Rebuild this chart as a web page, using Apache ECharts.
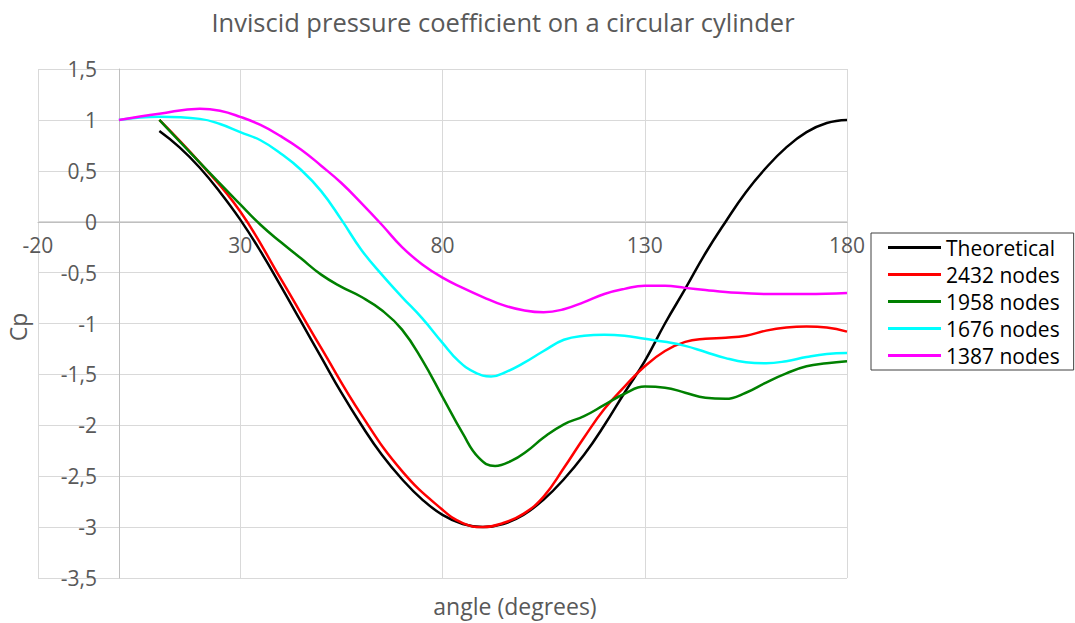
<!DOCTYPE html>
<html>
<head>
<meta charset="utf-8">
<script src="https://cdn.jsdelivr.net/npm/echarts@6/dist/echarts.min.js"></script>
<style>
  html, body { margin: 0; padding: 0; background: #fff; }
  #chart { width: 1075px; height: 623px; }
</style>
</head>
<body>
<div id="chart"></div>
<script>
// values: [angle, Cp]
var theoretical = [[10, 0.89], [15, 0.73], [20, 0.53], [25, 0.29], [30, 0.02], [35, -0.29], [40, -0.63], [45, -0.98], [50, -1.33], [55, -1.68], [60, -2.0], [65, -2.29], [70, -2.53], [75, -2.73], [80, -2.88], [85, -2.97], [90, -3.0], [95, -2.97], [100, -2.88], [105, -2.73], [110, -2.53], [115, -2.29], [120, -2.0], [125, -1.68], [130, -1.37], [135, -1.0], [140, -0.66], [145, -0.31], [150, 0.0], [155, 0.29], [160, 0.53], [165, 0.73], [170, 0.88], [175, 0.97], [180, 1.0]];
var nodes2432 = [[10, 1.0], [20, 0.58], [30, 0.1], [40, -0.56], [50, -1.24], [60, -1.9], [70, -2.45], [80, -2.83], [85, -2.96], [90, -3.0], [95, -2.96], [100, -2.87], [105, -2.7], [110, -2.42], [115, -2.12], [120, -1.84], [125, -1.62], [130, -1.42], [135, -1.27], [140, -1.18], [145, -1.15], [150, -1.14], [155, -1.12], [160, -1.07], [165, -1.04], [170, -1.03], [175, -1.04], [180, -1.08]];
var nodes1958 = [[10, 1.0], [20, 0.58], [30, 0.17], [35, -0.03], [40, -0.2], [45, -0.36], [50, -0.52], [55, -0.64], [60, -0.74], [65, -0.87], [70, -1.06], [75, -1.36], [80, -1.72], [85, -2.08], [89, -2.32], [93, -2.4], [97, -2.35], [101, -2.25], [105, -2.12], [110, -1.99], [115, -1.91], [120, -1.8], [125, -1.69], [130, -1.62], [135, -1.63], [140, -1.68], [145, -1.73], [150, -1.74], [155, -1.68], [160, -1.58], [165, -1.49], [170, -1.42], [175, -1.39], [180, -1.37]];
var nodes1676 = [[0, 1.0], [10, 1.03], [20, 1.01], [25, 0.96], [30, 0.88], [35, 0.8], [40, 0.67], [45, 0.51], [50, 0.3], [55, 0.02], [60, -0.28], [65, -0.52], [70, -0.74], [75, -0.95], [80, -1.19], [84, -1.37], [88, -1.48], [92, -1.52], [96, -1.47], [100, -1.39], [105, -1.27], [110, -1.16], [115, -1.12], [120, -1.11], [125, -1.12], [130, -1.15], [135, -1.18], [140, -1.22], [145, -1.28], [150, -1.34], [155, -1.38], [160, -1.39], [165, -1.37], [170, -1.33], [175, -1.3], [180, -1.29]];
var nodes1387 = [[0, 1.0], [10, 1.06], [20, 1.11], [25, 1.09], [30, 1.03], [35, 0.95], [40, 0.84], [45, 0.71], [50, 0.55], [55, 0.38], [60, 0.18], [65, -0.03], [70, -0.25], [75, -0.42], [80, -0.55], [85, -0.65], [90, -0.74], [95, -0.82], [100, -0.87], [105, -0.89], [110, -0.86], [115, -0.79], [120, -0.71], [125, -0.66], [130, -0.63], [135, -0.63], [140, -0.65], [145, -0.67], [150, -0.69], [160, -0.71], [170, -0.71], [180, -0.7]];

var seriesNames = ['Theoretical', '2432 nodes', '1958 nodes', '1676 nodes', '1387 nodes'];
var seriesColors = ['#000000', '#ff0000', '#008000', '#00ffff', '#ff00ff'];
var seriesData = [theoretical, nodes2432, nodes1958, nodes1676, nodes1387];

var font = '"Open Sans", "DejaVu Sans", sans-serif';

var chart = echarts.init(document.getElementById('chart'), null, { renderer: 'svg' });

var series = seriesNames.map(function (n, i) {
    return {
        name: n,
        type: 'line',
        data: seriesData[i],
        smooth: 0.45,
        symbol: 'none',
        lineStyle: { color: seriesColors[i], width: 2.5 },
        itemStyle: { color: seriesColors[i] }
    };
});

chart.setOption({
    animation: false,
    title: {
        text: 'Inviscid pressure coefficient on a circular cylinder',
        left: 498,
        top: 4,
        textAlign: 'center',
        textStyle: { fontFamily: font, fontSize: 25.5, fontWeight: 'normal', color: '#595959' }
    },
    legend: {
        orient: 'vertical',
        left: 871,
        top: 233,
        padding: [4, 14, 4, 17],
        itemGap: 6,
        itemWidth: 53,
        itemHeight: 3,
        icon: 'rect',
        borderColor: '#404040',
        borderWidth: 1,
        data: seriesNames,
        textStyle: { fontFamily: font, fontSize: 21, color: '#000' }
    },
    grid: { left: 38, right: 228, top: 69, bottom: 45, containLabel: false, outerBoundsMode: 'none' },
    xAxis: {
        type: 'value',
        min: -20,
        max: 180,
        interval: 50,
        offset: -356, // axis sits on Cp = 0
        axisLine: { onZero: false, lineStyle: { color: '#bfbfbf', width: 1 } },
        axisTick: { show: false },
        axisLabel: { margin: 12, fontFamily: font, fontSize: 21, color: '#595959' },
        splitLine: { show: true, lineStyle: { color: '#d9d9d9', width: 1 } }
    },
    yAxis: {
        type: 'value',
        min: -3.5,
        max: 1.5,
        interval: 0.5,
        offset: -81, // axis sits on angle = 0
        axisLine: { show: true, onZero: false, lineStyle: { color: '#bfbfbf', width: 1 } },
        axisTick: { show: false },
        axisLabel: {
            margin: 22,
            fontFamily: font,
            fontSize: 21,
            color: '#595959',
            formatter: function (v) { return String(v).replace('.', ','); }
        },
        splitLine: { show: true, lineStyle: { color: '#d9d9d9', width: 1 } }
    },
    graphic: [
        {
            type: 'text',
            x: 515,
            y: 606,
            style: {
                text: 'angle (degrees)',
                font: '23px ' + font,
                fill: '#595959',
                textAlign: 'center',
                textVerticalAlign: 'middle'
            }
        },
        {
            type: 'text',
            x: 18,
            y: 327,
            rotation: Math.PI / 2,
            style: {
                text: 'Cp',
                font: '23px ' + font,
                fill: '#595959',
                textAlign: 'center',
                textVerticalAlign: 'middle'
            }
        }
    ],
    series: series
});
</script>
</body>
</html>
